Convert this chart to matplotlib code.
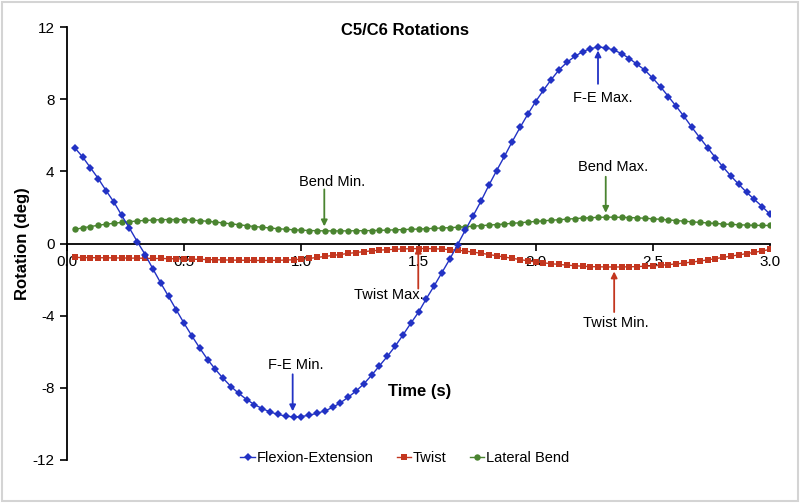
import matplotlib
matplotlib.use("Agg")
import matplotlib.pyplot as plt
from matplotlib.patches import Rectangle

plt.rcParams['font.family'] = ['Liberation Sans', 'DejaVu Sans']

# ---- data ----
time = [round(k / 30, 4) for k in range(1, 91)]

flexion_extension = [
    5.30, 4.80, 4.20, 3.60, 2.93, 2.30, 1.56, 0.85, 0.10, -0.61,
    -1.41, -2.19, -2.93, -3.69, -4.43, -5.13, -5.80, -6.43, -6.98, -7.48,
    -7.93, -8.31, -8.65, -8.93, -9.15, -9.34, -9.47, -9.57, -9.61, -9.59,
    -9.52, -9.41, -9.28, -9.09, -8.83, -8.52, -8.18, -7.78, -7.30, -6.78,
    -6.26, -5.70, -5.08, -4.43, -3.81, -3.06, -2.35, -1.61, -0.87, -0.07,
    0.75, 1.54, 2.35, 3.22, 4.04, 4.83, 5.65, 6.43, 7.17, 7.87,
    8.50, 9.09, 9.63, 10.04, 10.37, 10.63, 10.80, 10.89, 10.85, 10.72,
    10.53, 10.25, 9.93, 9.60, 9.16, 8.68, 8.14, 7.60, 7.04, 6.44,
    5.87, 5.32, 4.76, 4.23, 3.74, 3.28, 2.84, 2.44, 2.05, 1.62,
]

twist = [
    -0.77, -0.78, -0.78, -0.79, -0.79, -0.80, -0.80, -0.81, -0.81, -0.82,
    -0.83, -0.83, -0.84, -0.85, -0.86, -0.87, -0.88, -0.89, -0.90, -0.91,
    -0.92, -0.93, -0.93, -0.94, -0.94, -0.94, -0.93, -0.92, -0.90, -0.87,
    -0.83, -0.77, -0.72, -0.66, -0.61, -0.55, -0.50, -0.45, -0.41, -0.37,
    -0.34, -0.32, -0.30, -0.29, -0.28, -0.28, -0.29, -0.31, -0.34, -0.37,
    -0.42, -0.48, -0.54, -0.61, -0.68, -0.75, -0.82, -0.89, -0.96, -1.02,
    -1.07, -1.12, -1.16, -1.20, -1.23, -1.26, -1.28, -1.29, -1.30, -1.30,
    -1.30, -1.29, -1.28, -1.26, -1.24, -1.21, -1.17, -1.13, -1.08, -1.03,
    -0.97, -0.91, -0.84, -0.77, -0.70, -0.63, -0.56, -0.49, -0.41, -0.33,
]

lateral_bend = [
    0.78, 0.87, 0.94, 1.01, 1.07, 1.12, 1.17, 1.21, 1.25, 1.28,
    1.30, 1.32, 1.33, 1.33, 1.32, 1.30, 1.27, 1.23, 1.19, 1.14,
    1.09, 1.04, 0.99, 0.94, 0.90, 0.86, 0.82, 0.79, 0.76, 0.74,
    0.72, 0.71, 0.70, 0.70, 0.70, 0.70, 0.71, 0.71, 0.72, 0.73,
    0.74, 0.76, 0.77, 0.79, 0.80, 0.82, 0.84, 0.86, 0.88, 0.90,
    0.93, 0.96, 0.99, 1.02, 1.05, 1.08, 1.12, 1.15, 1.19, 1.22,
    1.26, 1.29, 1.32, 1.35, 1.38, 1.41, 1.43, 1.45, 1.46, 1.46,
    1.45, 1.44, 1.42, 1.40, 1.37, 1.34, 1.31, 1.27, 1.24, 1.20,
    1.17, 1.14, 1.11, 1.08, 1.06, 1.04, 1.02, 1.01, 1.00, 1.00,
]

series_names = ["Flexion-Extension", "Twist", "Lateral Bend"]
x_ticks = [0.0, 0.5, 1.0, 1.5, 2.0, 2.5, 3.0]
x_tick_labels = ["0.0", "0.5", "1.0", "1.5", "2.0", "2.5", "3.0"]
y_ticks = [-12, -8, -4, 0, 4, 8, 12]
y_tick_labels = ["-12", "-8", "-4", "0", "4", "8", "12"]

# annotations: (text, arrow x, arrow tail y, arrow tip y, text x, text y, colour key)
annotations = [
    ("F-E Max.", 2.266, 8.85, 10.70, 2.285, 8.05, "fe"),
    ("F-E Min.", 0.963, -7.25, -9.30, 0.975, -6.75, "fe"),
    ("Bend Min.", 1.098, 3.00, 0.95, 1.130, 3.42, "lb"),
    ("Bend Max.", 2.299, 3.70, 1.70, 2.330, 4.24, "lb"),
    ("Twist Max.", 1.499, -2.50, -0.18, 1.372, -2.87, "tw"),
    ("Twist Min.", 2.335, -3.80, -1.55, 2.340, -4.40, "tw"),
]

colors = {"fe": "#2232c4", "tw": "#c3361f", "lb": "#4a8430"}

# ---- figure ----
fig = plt.figure(figsize=(8.0, 5.03), dpi=100)
ax = fig.add_axes([0.08375, 0.0855, 0.87875, 0.8608])

l1, = ax.plot(time, flexion_extension, color=colors["fe"], lw=1.0,
              marker="D", markersize=4.2, markeredgewidth=0, label=series_names[0], zorder=4)
l2, = ax.plot(time, twist, color=colors["tw"], lw=1.0,
              marker="s", markersize=3.8, markeredgewidth=0, label=series_names[1], zorder=3)
l3, = ax.plot(time, lateral_bend, color=colors["lb"], lw=1.0,
              marker="o", markersize=4.6, markeredgewidth=0, label=series_names[2], zorder=3)

ax.set_xlim(0, 3.0)
ax.set_ylim(-12, 12)
ax.spines['top'].set_visible(False)
ax.spines['right'].set_visible(False)
ax.spines['bottom'].set_position(('data', 0))
ax.spines['left'].set_linewidth(1.3)
ax.spines['bottom'].set_linewidth(1.3)
ax.set_xticks(x_ticks)
ax.set_xticklabels(x_tick_labels)
ax.set_yticks(y_ticks)
ax.set_yticklabels(y_tick_labels)
ax.tick_params(axis='both', direction='out', length=5, width=1.2, labelsize=11, colors='black')
ax.tick_params(axis='x', pad=3)
ax.tick_params(axis='y', pad=4)

ax.set_ylabel("Rotation (deg)", fontsize=12, fontweight='bold', labelpad=2)
fig.text(0.506, 0.94, "C5/C6 Rotations", ha='center', va='center', fontsize=12, fontweight='bold')
ax.text(1.505, -8.2, "Time (s)", ha='center', va='center', fontsize=12, fontweight='bold')

for txt, ax_x, y_tail, y_tip, tx, ty, ck in annotations:
    ax.annotate("", xy=(ax_x, y_tip), xytext=(ax_x, y_tail),
                arrowprops=dict(arrowstyle="-|>", color=colors[ck], lw=1.3,
                                mutation_scale=9, shrinkA=0, shrinkB=0), zorder=5)
    ax.text(tx, ty, txt, ha='center', va='center', fontsize=10.5, color='black', zorder=5)

fig.legend(handles=[l1, l2, l3], labels=series_names, loc='center',
           bbox_to_anchor=(0.506, 0.089), ncol=3, frameon=False, fontsize=10.5,
           handlelength=1.0, handletextpad=0.1, columnspacing=1.6, markerscale=1.0)

fig.patches.append(Rectangle((0.003, 0.004), 0.994, 0.992, transform=fig.transFigure,
                             fill=False, edgecolor='#d4d4d4', lw=1.5))

fig.savefig("out.png", dpi=100)
